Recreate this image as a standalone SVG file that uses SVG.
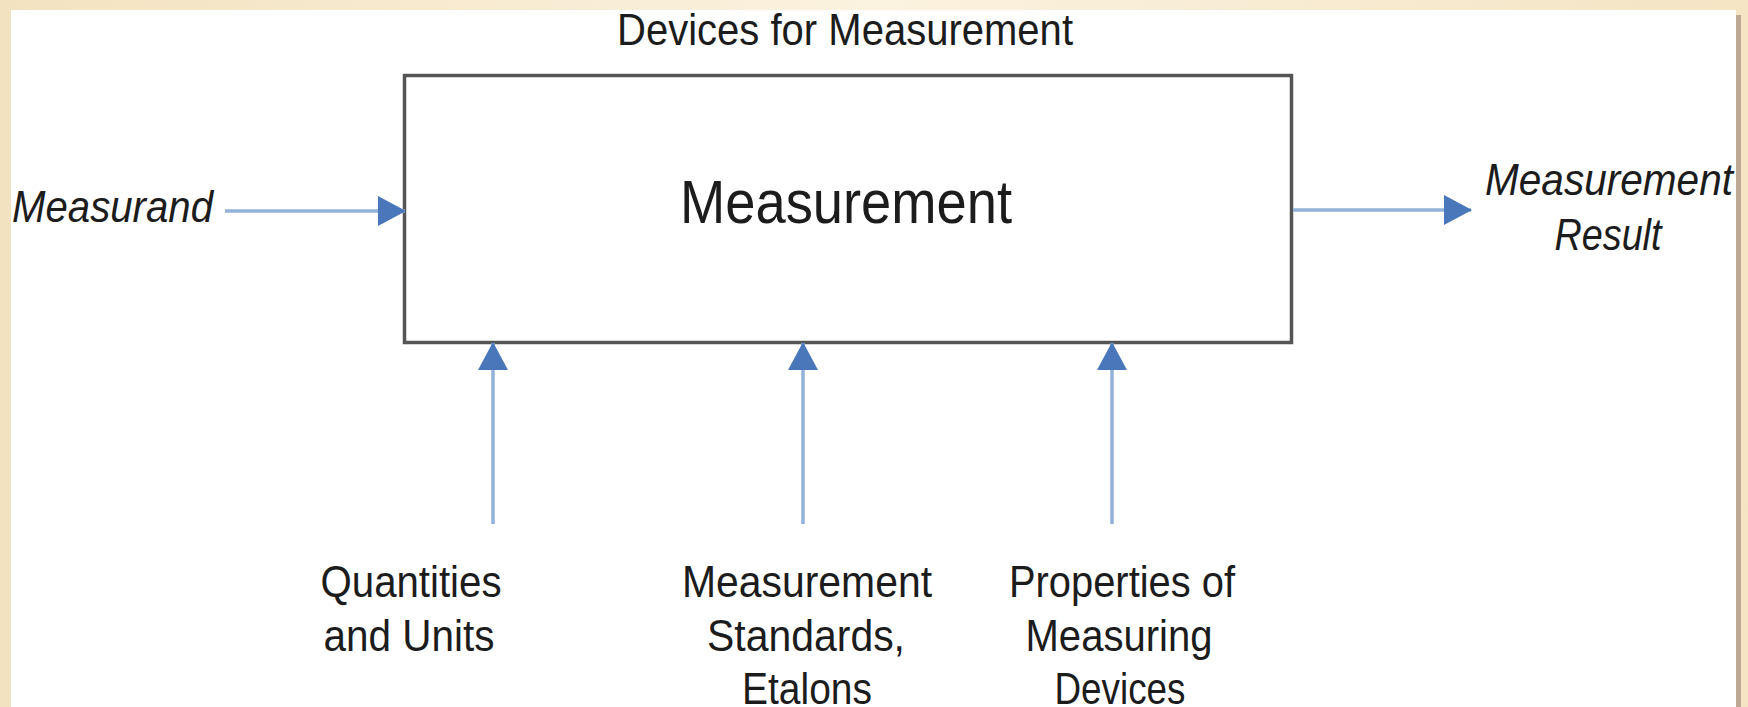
<svg xmlns="http://www.w3.org/2000/svg" width="1748" height="707" viewBox="0 0 1748 707">
  <defs>
    <linearGradient id="bgGrad" x1="0" y1="0" x2="1" y2="0">
      <stop offset="0" stop-color="#f3e2c0"/>
      <stop offset="0.5" stop-color="#fbf2df"/>
      <stop offset="1" stop-color="#f4e4c4"/>
    </linearGradient>
    <marker id="arrow" markerUnits="userSpaceOnUse" markerWidth="28" markerHeight="30" viewBox="0 0 28 30" refX="27" refY="15" orient="auto">
      <path d="M0,0 L28,15 L0,30 z" fill="#4a77ba"/>
    </marker>
    <style>
      .lbl { font-family: "Liberation Sans", Arial, sans-serif; fill: #1c1c1c; font-size: 44px; }
      .it { font-style: italic; }
      .conn { stroke: #93b2da; stroke-width: 3.5; fill: none; }
      .box { fill: #ffffff; stroke: #555555; stroke-width: 3.5; }
    </style>
  </defs>

  <!-- background frame -->
  <rect x="0" y="0" width="1748" height="707" fill="url(#bgGrad)"/>
  <rect x="11" y="10" width="1725" height="697" fill="#ffffff"/>
  <rect x="1736" y="15" width="5" height="692" fill="#bea995"/>

  <text class="lbl" x="845" y="45" text-anchor="middle" textLength="456" lengthAdjust="spacingAndGlyphs">Devices for Measurement</text>

  <g id="node-measurement">
    <rect class="box" x="404.5" y="75.5" width="887" height="267"/>
    <text class="lbl" x="846" y="223" font-size="62" style="font-size:62px" text-anchor="middle" textLength="332" lengthAdjust="spacingAndGlyphs">Measurement</text>
  </g>

  <g id="node-measurand">
    <text class="lbl it" x="12" y="222" textLength="201" lengthAdjust="spacingAndGlyphs">Measurand</text>
  </g>

  <g id="node-result">
    <text class="lbl it" x="1609" y="195" text-anchor="middle" textLength="248" lengthAdjust="spacingAndGlyphs">Measurement</text>
    <text class="lbl it" x="1608" y="250" text-anchor="middle" textLength="107" lengthAdjust="spacingAndGlyphs">Result</text>
  </g>

  <g id="node-quantities">
    <text class="lbl" x="411" y="597" text-anchor="middle" textLength="181" lengthAdjust="spacingAndGlyphs">Quantities</text>
    <text class="lbl" x="409" y="651" text-anchor="middle" textLength="171" lengthAdjust="spacingAndGlyphs">and Units</text>
  </g>

  <g id="node-standards">
    <text class="lbl" x="807" y="597" text-anchor="middle" textLength="250" lengthAdjust="spacingAndGlyphs">Measurement</text>
    <text class="lbl" x="806" y="651" text-anchor="middle" textLength="198" lengthAdjust="spacingAndGlyphs">Standards,</text>
    <text class="lbl" x="807" y="704" text-anchor="middle" textLength="130" lengthAdjust="spacingAndGlyphs">Etalons</text>
  </g>

  <g id="node-properties">
    <text class="lbl" x="1122" y="597" text-anchor="middle" textLength="226" lengthAdjust="spacingAndGlyphs">Properties of</text>
    <text class="lbl" x="1119" y="651" text-anchor="middle" textLength="187" lengthAdjust="spacingAndGlyphs">Measuring</text>
    <text class="lbl" x="1120" y="704" text-anchor="middle" textLength="131" lengthAdjust="spacingAndGlyphs">Devices</text>
  </g>

  <g id="connectors">
    <line class="conn" x1="225" y1="211" x2="405" y2="211" marker-end="url(#arrow)"/>
    <line class="conn" x1="1293" y1="210" x2="1471" y2="210" marker-end="url(#arrow)"/>
    <line class="conn" x1="493" y1="524" x2="493" y2="343" marker-end="url(#arrow)"/>
    <line class="conn" x1="803" y1="524" x2="803" y2="343" marker-end="url(#arrow)"/>
    <line class="conn" x1="1112" y1="524" x2="1112" y2="343" marker-end="url(#arrow)"/>
  </g>
</svg>
